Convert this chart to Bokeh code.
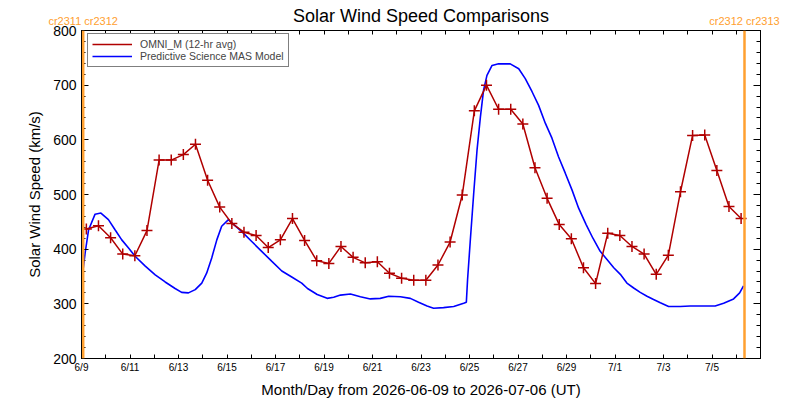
from bokeh.plotting import figure
from bokeh.models import (Range1d, FixedTicker, SingleIntervalTicker, LinearAxis,
                          Legend, LegendItem, Span)
from bokeh.embed import file_html
from bokeh.resources import INLINE

# ---------------- data ----------------
# x in days since 2026-06-09 00:00 UT
tick_days = list(range(0, 29))
label_days = [0, 2, 4, 6, 8, 10, 12, 14, 16, 18, 20, 22, 24, 26]
tick_labels = ["6/9", "6/11", "6/13", "6/15", "6/17", "6/19", "6/21",
               "6/23", "6/25", "6/27", "6/29", "7/1", "7/3", "7/5"]

# OMNI_M 12-hr averages (km/s); sample times = red_start + 0.5 day * i
red_start = 0.2
red_step = 0.5
omni_speed = [437, 443, 421, 391, 388, 434, 563, 563, 573, 592, 526, 477, 447, 431,
              425, 403, 417, 456, 416, 379, 374, 405, 385, 375, 377, 356, 347, 343,
              343, 371, 413, 499, 653, 700, 656, 656, 629, 549, 493, 445, 419, 366,
              337, 429, 425, 405, 391, 354, 389, 505, 608, 609, 544, 478, 456]
omni_days = [red_start + red_step * i for i in range(len(omni_speed))]

# Predictive Science MAS model
mas_days = [0.01, 0.15, 0.29, 0.56, 0.80, 1.11, 1.39, 1.66, 1.94, 2.21, 2.63, 3.04,
            3.45, 3.86, 4.13, 4.41, 4.69, 4.96, 5.16, 5.37, 5.58, 5.78, 6.06, 6.20,
            6.61, 7.02, 7.43, 7.84, 8.26, 8.67, 9.08, 9.32, 9.72, 10.13, 10.40, 10.68,
            11.09, 11.50, 11.91, 12.32, 12.67, 13.15, 13.56, 13.90, 14.25, 14.52,
            14.93, 15.35, 15.76, 15.87, 15.92, 16.03, 16.17, 16.31, 16.45, 16.58,
            16.72, 16.93, 17.20, 17.68, 18.03, 18.30, 18.58, 18.85, 19.13, 19.40,
            19.67, 19.95, 20.23, 20.50, 20.81, 21.09, 21.39, 21.67, 21.95, 22.22,
            22.49, 22.77, 23.04, 23.32, 23.59, 23.87, 24.21, 24.69, 25.10, 25.65,
            26.13, 26.48, 26.89, 27.14, 27.30]
mas_speed = [343, 393, 435, 464, 466, 454, 435, 417, 402, 387, 369, 353,
             340, 328, 321, 320, 326, 338, 356, 384, 417, 442, 454, 448,
             432, 414, 396, 378, 360, 349, 338, 328, 317, 310, 312, 316,
             318, 313, 309, 310, 314, 313, 310, 303, 296, 292,
             293, 295, 301, 303, 344, 414, 500, 581, 642, 691,
             718, 736, 739, 739, 730, 712, 688, 663, 630, 603,
             569, 539, 508, 475, 445, 420, 396, 381, 366, 354,
             338, 329, 321, 314, 308, 302, 295, 295, 296, 296,
             296, 301, 309, 320, 333]

# Carrington rotation boundaries (days) and their labels
cr_days = [0.07, 27.34]
cr_labels = ["cr2311 cr2312", "cr2312 cr2313"]

title_text = "Solar Wind Speed Comparisons"
x_title = "Month/Day from 2026-06-09 to 2026-07-06 (UT)"
y_title = "Solar Wind Speed (km/s)"

# ---------------- styles ----------------
RED = "#b00000"
BLUE = "#0000ff"
ORANGE = "#ffa030"
FONT = "Liberation Sans"

p = figure(width=800, height=400, output_backend="svg", toolbar_location=None,
           x_range=Range1d(0, 28), y_range=Range1d(200, 800),
           min_border_left=81, min_border_right=40, min_border_top=30,
           min_border_bottom=41, x_axis_location=None, y_axis_location=None)
p.grid.visible = False
p.outline_line_color = "black"
p.outline_line_width = 1
p.background_fill_color = "white"
p.border_fill_color = "white"

overrides = {d: "" for d in tick_days}
for d, t in zip(label_days, tick_labels):
    overrides[d] = t


def style_axis(ax, tick_in, minor_in):
    ax.axis_line_color = "black"
    ax.major_tick_line_color = "black"
    ax.minor_tick_line_color = "black"
    ax.major_tick_in = tick_in
    ax.major_tick_out = 0
    ax.minor_tick_in = minor_in
    ax.minor_tick_out = 0
    ax.major_label_text_font = FONT
    ax.axis_label_text_font = FONT
    ax.axis_label_text_font_style = "normal"
    ax.axis_label_text_color = "black"
    ax.major_label_text_color = "black"


# bottom axis
xb = LinearAxis(ticker=FixedTicker(ticks=tick_days), axis_label=x_title)
style_axis(xb, 4, 0)
xb.major_label_overrides = overrides
xb.major_label_text_font_size = "10px"
xb.major_label_standoff = 3
xb.axis_label_text_font_size = "15px"
xb.axis_label_standoff = 5
p.add_layout(xb, "below")

# top axis: daily ticks, Carrington-rotation labels (orange), title as axis label
top_overrides = {d: "" for d in tick_days}
for d, lab in zip(cr_days, cr_labels):
    top_overrides[d] = lab
xt = LinearAxis(ticker=FixedTicker(ticks=tick_days + cr_days), axis_label=title_text)
style_axis(xt, 4, 0)
xt.major_label_overrides = top_overrides
xt.major_label_text_font_size = "11px"
xt.major_label_text_color = ORANGE
xt.major_label_standoff = 4
xt.axis_label_text_font_size = "18px"
xt.axis_label_standoff = -14
p.add_layout(xt, "above")

# left axis
yl = LinearAxis(ticker=SingleIntervalTicker(interval=100, num_minor_ticks=5),
                axis_label=y_title)
style_axis(yl, 7, 4)
yl.major_label_text_font_size = "14px"
yl.major_label_standoff = 5
yl.axis_label_text_font_size = "15px"
yl.axis_label_standoff = 7
p.add_layout(yl, "left")

# right axis (ticks only)
yr = LinearAxis(ticker=SingleIntervalTicker(interval=100, num_minor_ticks=5))
style_axis(yr, 7, 4)
yr.major_label_overrides = {v: "" for v in range(200, 801, 100)}
yr.major_label_text_font_size = "1px"
p.add_layout(yr, "right")

# CR boundaries
for d in cr_days:
    p.add_layout(Span(location=d, dimension="height", line_color=ORANGE, line_width=2.5))

# data
blue_r = p.line(mas_days, mas_speed, line_color=BLUE, line_width=1.6)
red_r = p.line(omni_days, omni_speed, line_color=RED, line_width=1.5)
p.scatter(omni_days, omni_speed, marker="cross", size=11, line_color=RED, line_width=1.5)

legend = Legend(items=[LegendItem(label="OMNI_M (12-hr avg)", renderers=[red_r]),
                       LegendItem(label="Predictive Science MAS Model", renderers=[blue_r])],
                location=(6, 291), margin=0, padding=4, spacing=0,
                glyph_width=40, glyph_height=10, label_height=10, label_standoff=8,
                label_text_font=FONT, label_text_font_size="10.5px",
                border_line_color="black", border_line_width=1,
                background_fill_alpha=1.0)
p.add_layout(legend)

open("out.html", "w").write(file_html(p, INLINE))
